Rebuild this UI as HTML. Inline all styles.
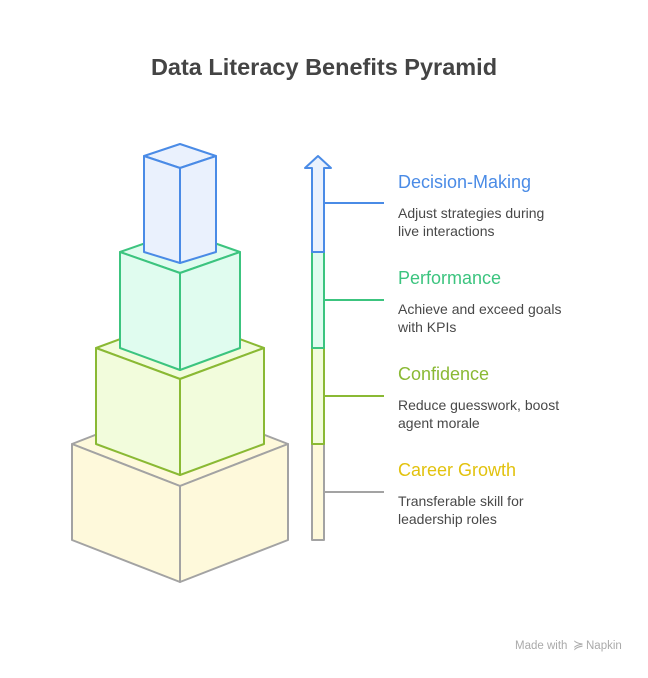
<!DOCTYPE html>
<html><head><meta charset="utf-8"><style>
body{margin:0;background:#fff;}
svg text{font-family:"Liberation Sans",sans-serif;}
</style></head><body>
<svg width="648" height="673" viewBox="0 0 648 673" xmlns="http://www.w3.org/2000/svg">
<rect width="648" height="673" fill="#fff"/>
<text x="324" y="75" text-anchor="middle" font-size="23.5" font-weight="bold" fill="#444">Data Literacy Benefits Pyramid</text>
<g stroke-width="2" stroke-linejoin="round">
<g fill="#fef9db" stroke="#a3a3a3">
<polygon points="72,444 180,402 288,444 180,486"/>
<polygon points="72,444 180,486 180,582 72,540"/>
<polygon points="288,444 180,486 180,582 288,540"/>
</g>
<g fill="#f2fcdc" stroke="#8ab934">
<polygon points="96,348 180,317 264,348 180,379"/>
<polygon points="96,348 180,379 180,475 96,444"/>
<polygon points="264,348 180,379 180,475 264,444"/>
</g>
<g fill="#e0fcef" stroke="#3cc47f">
<polygon points="120,252 180,231 240,252 180,273"/>
<polygon points="120,252 180,273 180,370 120,348"/>
<polygon points="240,252 180,273 180,370 240,348"/>
</g>
<g fill="#eaf1fd" stroke="#4a8be6">
<polygon points="144,156 180,144 216,156 180,168"/>
<polygon points="144,156 180,168 180,263 144,252"/>
<polygon points="216,156 180,168 180,263 216,252"/>
</g>
<rect x="312" y="444" width="12" height="96" fill="#fef9db" stroke="#a3a3a3"/>
<rect x="312" y="348" width="12" height="96" fill="#f2fcdc" stroke="#8ab934"/>
<rect x="312" y="252" width="12" height="96" fill="#e0fcef" stroke="#3cc47f"/>
<polygon points="312,252 312,168 305,168 318,156 331,168 324,168 324,252" fill="#eaf1fd" stroke="#4a8be6"/>
<line x1="324" y1="203" x2="384" y2="203" stroke="#4a8be6"/>
<line x1="324" y1="300" x2="384" y2="300" stroke="#3cc47f"/>
<line x1="324" y1="396" x2="384" y2="396" stroke="#8ab934"/>
<line x1="324" y1="492" x2="384" y2="492" stroke="#a3a3a3"/>
</g>
<g font-size="18">
<text x="398" y="188" fill="#4a8be6">Decision-Making</text>
<text x="398" y="284" fill="#3cc47f">Performance</text>
<text x="398" y="380" fill="#8ab934">Confidence</text>
<text x="398" y="476" fill="#e2c20e">Career Growth</text>
</g>
<g font-size="14" fill="#484848">
<text x="398" y="218">Adjust strategies during</text>
<text x="398" y="236">live interactions</text>
<text x="398" y="314">Achieve and exceed goals</text>
<text x="398" y="332">with KPIs</text>
<text x="398" y="410">Reduce guesswork, boost</text>
<text x="398" y="428">agent morale</text>
<text x="398" y="506">Transferable skill for</text>
<text x="398" y="524">leadership roles</text>
</g>
<text x="515" y="649" font-size="11.5" fill="#aaa">Made with</text>
<text x="573" y="649" font-size="13" fill="#aaa">≽</text>
<text x="586" y="649" font-size="11.5" fill="#aaa">Napkin</text>
</svg>
</body></html>
